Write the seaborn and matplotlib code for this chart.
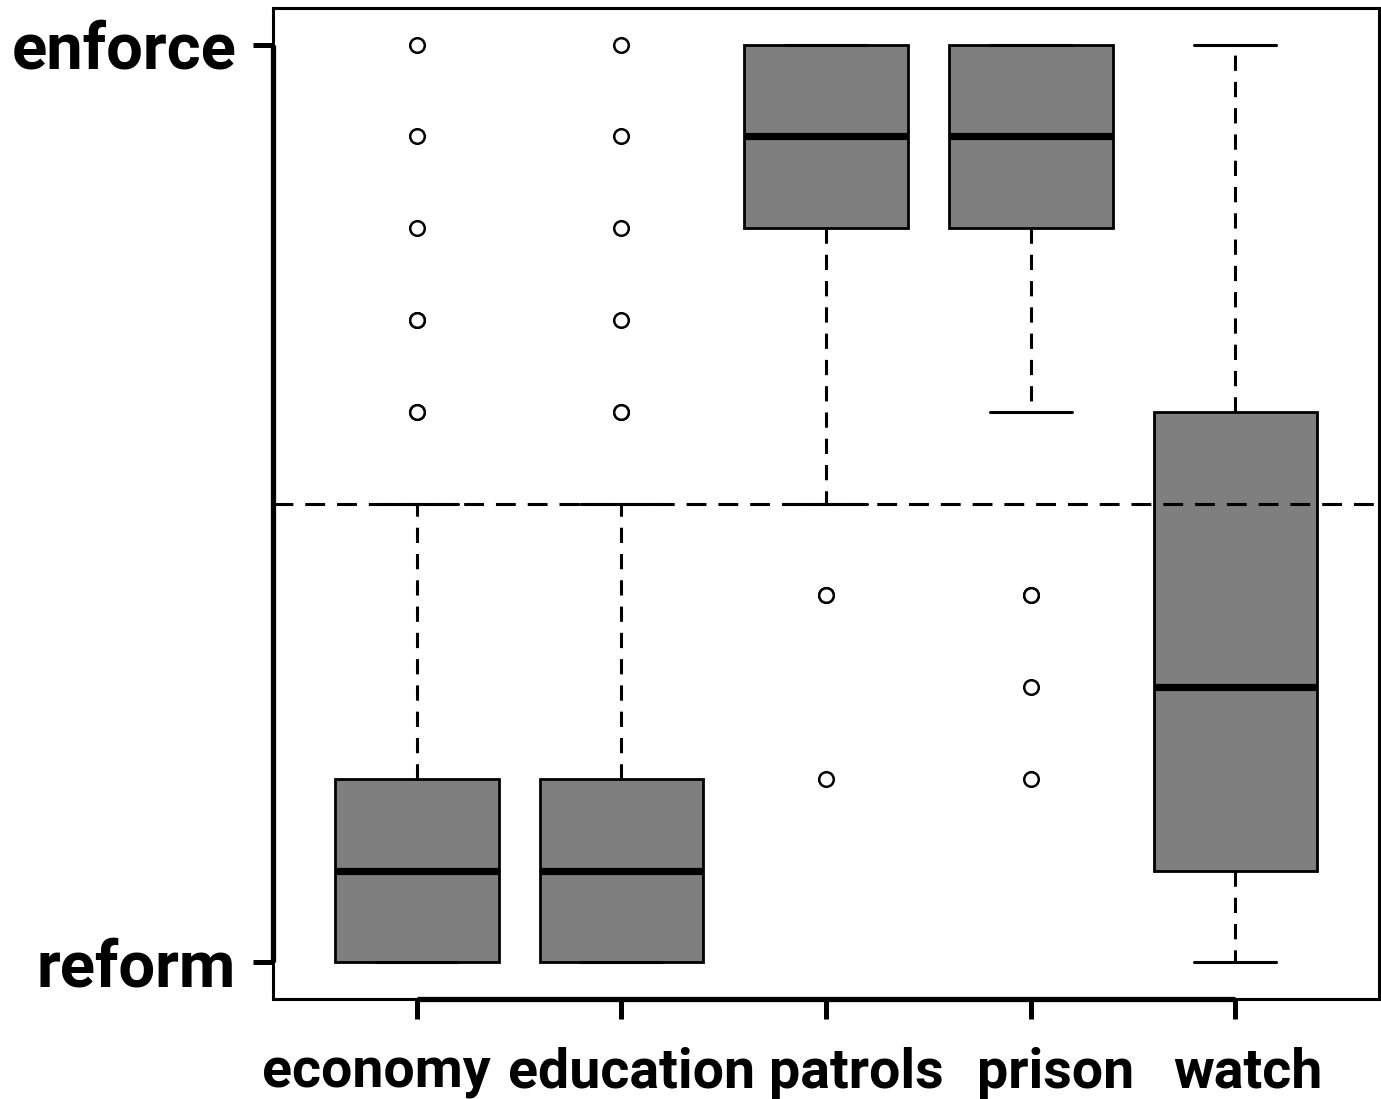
import numpy as np
import pandas as pd
import matplotlib
matplotlib.use("Agg")
import matplotlib.pyplot as plt
import matplotlib.transforms as mtransforms
import seaborn as sns

# ---- data (response counts per level 0..10, reform -> enforce) ----
levels = [0, 1, 2, 3, 4, 5, 6, 7, 8, 9, 10]
categories = ["economy", "education", "patrols", "prison", "watch"]
economy_counts = [30, 25, 25, 6, 4, 3, 2, 2, 1, 1, 1]
education_counts = [28, 27, 25, 7, 4, 3, 2, 1, 1, 1, 1]
patrols_counts = [0, 0, 1, 0, 2, 3, 4, 10, 20, 25, 35]
prison_counts = [0, 0, 1, 1, 2, 0, 6, 10, 20, 25, 35]
watch_counts = [10, 20, 15, 15, 8, 5, 10, 5, 5, 4, 3]
y_tick_values = [0, 10]
y_tick_labels = ["reform", "enforce"]
midpoint = 5

# horizontal nudges (pixels) of the category labels, as in the reference
label_nudge_px = [-40, 10, 30, 25, 13]

counts = [economy_counts, education_counts, patrols_counts, prison_counts, watch_counts]
rows = []
for cat, c in zip(categories, counts):
    vals = np.repeat(levels, c)
    rows.append(pd.DataFrame({"topic": cat, "score": vals}))
df = pd.concat(rows, ignore_index=True)

sns.set_style("white")
plt.rcParams["font.family"] = ["Roboto", "DejaVu Sans"]
for k in ["text.color", "axes.labelcolor", "xtick.color", "ytick.color", "axes.edgecolor"]:
    plt.rcParams[k] = "black"

fig = plt.figure(figsize=(13.81, 10.99), dpi=100)
ax = fig.add_axes([0.1977, 0.0910, 0.8009, 0.9017])

sns.boxplot(
    data=df, x="topic", y="score", order=categories, ax=ax,
    color="#7f7f7f", saturation=1, linecolor="black", linewidth=2,
    width=0.8, whis=1.5,
    medianprops=dict(linewidth=5.2, color="black", solid_capstyle="butt"),
    whiskerprops=dict(linestyle=(0, (5.0, 3.6)), color="black", linewidth=2.2),
    capprops=dict(color="black", linewidth=2.2),
    flierprops=dict(marker="o", markerfacecolor="white", markeredgecolor="black",
                    markeredgewidth=1.8, markersize=10.5),
)

ax.axhline(midpoint, color="black", lw=2.2, linestyle=(0, (6.5, 3.9)), zorder=5)

ax.set_xlim(-0.702, 4.702)
ax.set_ylim(-0.4, 10.4)
ax.set_yticks(y_tick_values)
ax.set_yticklabels(y_tick_labels)
ax.set_xlabel("")
ax.set_ylabel("")

for s in ax.spines.values():
    s.set_visible(True)
    s.set_linewidth(2.2)
    s.set_color("black")

# R-style thick axis lines
ax.plot([0, 0], [min(y_tick_values), max(y_tick_values)], transform=ax.get_yaxis_transform(),
        color="black", lw=3.8, clip_on=False, solid_capstyle="butt", zorder=6)
ax.plot([0, len(categories) - 1], [0, 0], transform=ax.get_xaxis_transform(),
        color="black", lw=3.8, clip_on=False, solid_capstyle="butt", zorder=6)

ax.tick_params(axis="y", left=True, length=14.5, width=3.6, pad=12, labelsize=47,
               direction="out", colors="black")
ax.tick_params(axis="x", bottom=True, length=14.5, width=3.6, pad=20, labelsize=40,
               direction="out", colors="black")
for lab in ax.get_xticklabels() + ax.get_yticklabels():
    lab.set_fontweight("bold")
    lab.set_color("black")

for lab, dx in zip(ax.get_xticklabels(), label_nudge_px):
    off = mtransforms.ScaledTranslation(dx / fig.dpi, 0, fig.dpi_scale_trans)
    lab.set_transform(lab.get_transform() + off)

fig.savefig("out.png", dpi=100)
